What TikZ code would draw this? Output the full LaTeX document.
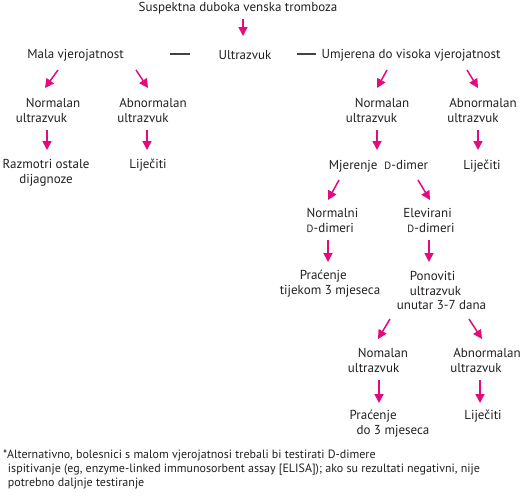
\documentclass[tikz,border=0pt]{standalone}
\usepackage{fontspec}
\setmainfont{PT Sans}
\usetikzlibrary{arrows.meta,calc}
\definecolor{pinkarr}{HTML}{E5097F}
\definecolor{txt}{HTML}{231F20}
\newcommand{\smD}{{\fontsize{10.5pt}{10.5pt}\selectfont D}}
\begin{document}
\begin{tikzpicture}[x=1pt,y=-1pt,
  lbl/.style={inner sep=0pt,outer sep=0pt,text=txt,font=\fontsize{13pt}{15pt}\selectfont,align=center},
  lbll/.style={lbl,align=left},
  arr/.style={draw=pinkarr,line width=1.5pt,-{Triangle[width=9pt,length=9pt]}},
  dashln/.style={draw=txt!85,line width=1.6pt}]
\useasboundingbox (0,0) rectangle (526,501);
\node[lbl] (title) at (238,8) {Suspektna duboka venska tromboza};
\node[lbl] (ultra) at (245,55) {Ultrazvuk};
\node[lbl] (mala) at (75.5,55) {Mala vjerojatnost};
\node[lbl] (umj) at (411,55) {Umjerena do visoka vjerojatnost};
\node[lbll] (normL) at (48,110.5) {\hspace*{10pt}Normalan\\ultrazvuk};
\node[lbll] (abnL) at (152,110.5) {\hspace*{2pt}Abnormalan\\ultrazvuk};
\node[lbl] (razm) at (46,172.5) {Razmotri ostale\\dijagnoze};
\node[lbl] (lijL) at (148,165) {Liječiti};
\node[lbll] (normR) at (377.5,110.5) {\hspace*{9pt}Normalan\\ultrazvuk};
\node[lbll] (abnR) at (482,110.5) {\hspace*{2pt}Abnormalan\\ultrazvuk};
\node[lbl] (mjer) at (378.5,166) {Mjerenje\ \ \smD-dimer};
\node[lbl] (lijR) at (482,166) {Liječiti};
\node[lbll] (normD) at (332.5,220.5) {Normalni\\\smD-dimeri};
\node[lbll] (elev) at (429,220.5) {Elevirani\\\hspace*{4pt}\smD-dimeri};
\node[lbll] (prac1) at (330,283.5) {\hspace*{20pt}Praćenje\\tijekom 3 mjeseca};
\node[lbll,font=\fontsize{13pt}{14.5pt}\selectfont] (pon) at (441.5,290.5) {\hspace*{13pt}Ponoviti\\\hspace*{13pt}ultrazvuk\\unutar 3-7 dana};
\node[lbll] (nom) at (378,360.5) {\hspace*{10pt}Nomalan\\ultrazvuk};
\node[lbll] (abn3) at (485.5,360.5) {\hspace*{3pt}Abnormalan\\ultrazvuk};
\node[lbll] (prac2) at (389.5,423.5) {Praćenje\\\hspace*{7pt}do 3 mjeseca};
\node[lbl] (lij3) at (483,416) {Liječiti};
\node[lbll,anchor=west,font=\fontsize{12pt}{14pt}\selectfont] (foot) at (3,469) {*Alternativno, bolesnici s malom vjerojatnosi trebali bi testirati D-dimere\\\hspace*{5pt}ispitivanje (eg, enzyme-linked immunosorbent assay [ELISA]); ako su rezultati negativni, nije\\\hspace*{5pt}potrebno daljnje testiranje};
% dashes
\draw[dashln] ($(ultra.west)+(-49,-1)$) -- ($(ultra.west)+(-29,-1)$);
\draw[dashln] ($(ultra.east)+(26,-1)$) -- ($(ultra.east)+(45,-1)$);
% arrows
\draw[arr] ($(title)+(5,11)$) -- ($(ultra)+(-2,-19)$);
\draw[arr] ($(mala)+(-17.5,15)$) -- ($(normL)+(-3,-22.5)$);
\draw[arr] ($(mala)+(60.5,15)$) -- ($(abnL)+(-4,-22.5)$);
\draw[arr] ($(normL)+(-1,19.5)$) -- ($(razm)+(1,-22.5)$);
\draw[arr] ($(abnL)+(-5,19.5)$) -- ($(lijL)+(-1,-15)$);
\draw[arr] ($(umj)+(-24,15)$) -- ($(normR)+(-0.5,-22.5)$);
\draw[arr] ($(umj)+(56,15)$) -- ($(abnR)+(-4,-22.5)$);
\draw[arr] ($(normR)+(-0.5,19.5)$) -- ($(mjer)+(-1.5,-16)$);
\draw[arr] ($(abnR)+(-4,19.5)$) -- ($(lijR)+(-4,-16)$);
\draw[arr] ($(mjer)+(-39.5,14)$) -- ($(normD)+(-4.5,-20.5)$);
\draw[arr] ($(mjer)+(39.5,14)$) -- ($(elev)+(1,-20.5)$);
\draw[arr] ($(normD)+(-4.5,19.5)$) -- ($(prac1)+(-2,-21.5)$);
\draw[arr] ($(elev)+(0,19.5)$) -- ($(pon)+(-12.5,-28.5)$);
\draw[arr] ($(pon)+(-51.5,28.5)$) -- ($(nom)+(0,-21.5)$);
\draw[arr] ($(pon)+(27.5,28.5)$) -- ($(abn3)+(-3.5,-21.5)$);
\draw[arr] ($(nom)+(1,19.5)$) -- ($(prac2)+(-10.5,-20.5)$);
\draw[arr] ($(abn3)+(-5.5,19.5)$) -- ($(lij3)+(-3,-13)$);
\end{tikzpicture}
\end{document}
